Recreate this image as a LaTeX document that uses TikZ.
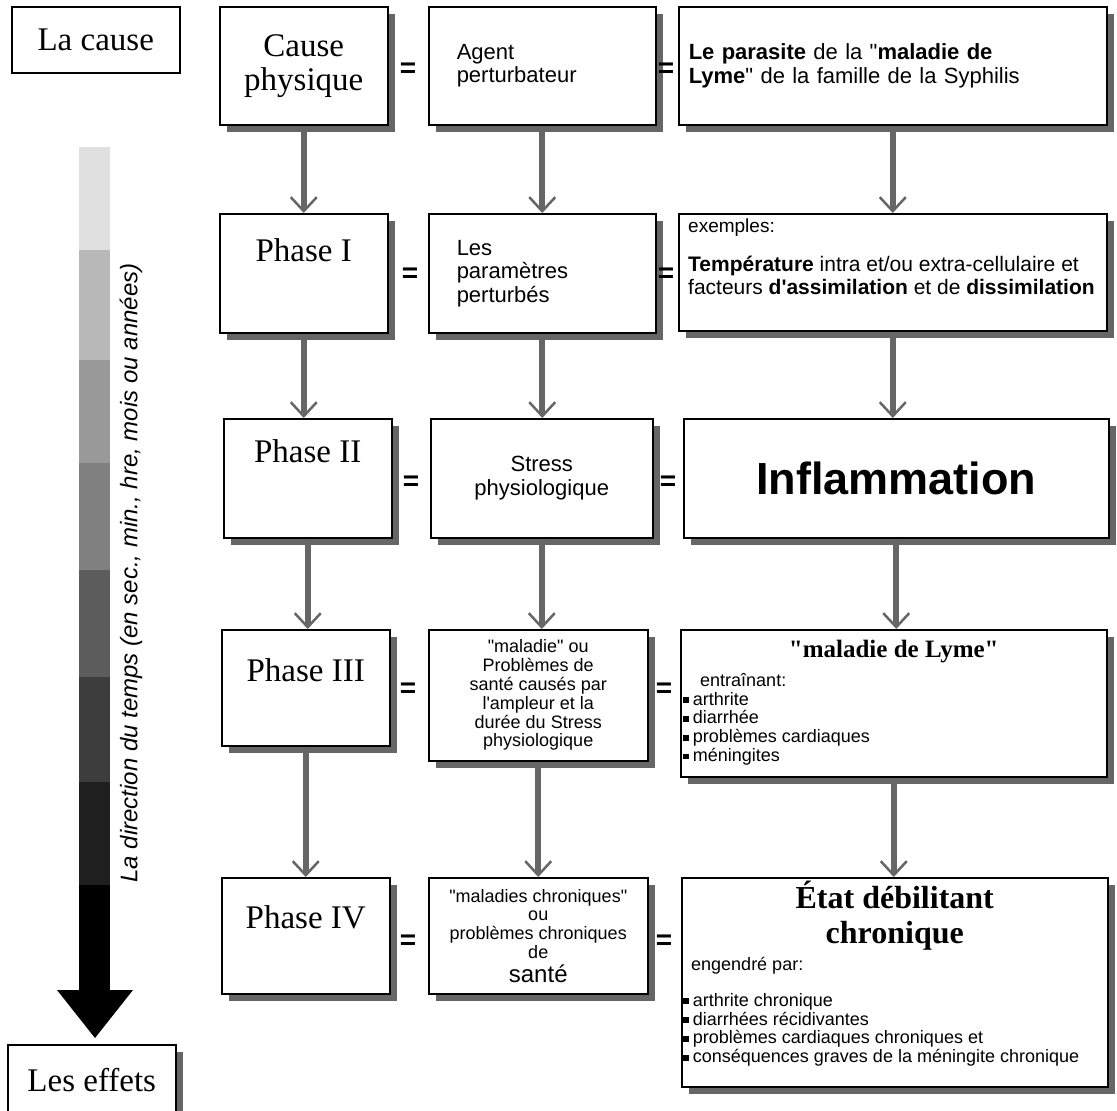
\documentclass[tikz,border=0pt]{standalone}
\usepackage{fontspec}
\setmainfont{Liberation Serif}[Ligatures=TeXOff]
\setsansfont{Liberation Sans}[Ligatures=TeXOff]
\usetikzlibrary{arrows.meta,shadows}

\definecolor{shadegray}{HTML}{666666}
\newcommand\sq{\rule[0.12em]{0.32em}{0.32em}\hspace{0.22em}}

\tikzset{
  frame/.style={draw, line width=1.5pt, fill=white, anchor=north west, inner sep=0pt},
  shbox/.style={frame, drop shadow={shadow xshift=7pt, shadow yshift=-7pt, fill=shadegray, opacity=1}},
  ttl/.style={font=\fontsize{33}{34}\selectfont},
  sans/.style={font=\sffamily\fontsize{22}{23.5}\selectfont},
  small/.style={font=\sffamily\fontsize{18}{18.8}\selectfont},
  eq/.style={font=\sffamily\bfseries\fontsize{28}{28}\selectfont, inner sep=0pt},
  flow/.style={draw=shadegray, line width=6pt, -{Straight Barb[length=14pt, width=26pt, line width=2.5pt]}}
}

\begin{document}
\begin{tikzpicture}[x=1pt, y=-1pt]
\clip (0,0) rectangle (1117,1111);
% time axis
\foreach \y/\z/\g in {147/250/12, 250/360/28, 360/463/40, 463/570/50, 570/677/64, 677/782/76, 782/885/88} \fill[black!\g] (79,\y) rectangle (110,\z);
\fill (79,885) rectangle (110,991);
\fill (57,990) -- (133,990) -- (95,1038) -- cycle;
\node[rotate=90, font=\sffamily\itshape\fontsize{24}{24}\selectfont] (dir) at (131,573) {La direction du temps (en sec., min., hre, mois ou années)};
\node[frame, ttl, minimum width=168pt, minimum height=66pt] (cause) at (11,6) {La cause};
\node[shbox, ttl, minimum width=168pt, minimum height=70pt] (effets) at (7,1044) {Les effets};
% row 1
\node[shbox, ttl, align=center, minimum width=168pt, minimum height=118pt] (cp) at (219,6) {Cause\\physique};
\node[shbox, sans, minimum width=227pt, minimum height=118pt, inner xsep=28pt, text width=171pt, align=left] (agent) at (428,6) {Agent\\perturbateur};
\node[shbox, sans, minimum width=428pt, minimum height=118pt, inner xsep=10pt, text width=408pt, align=left] (parasite) at (678,6) {\textbf{Le parasite} de la "\textbf{maladie de}\\\textbf{Lyme}" de la famille de la Syphilis};
% row 2
\node[shbox, minimum width=168pt, minimum height=119pt] (ph1) at (219,213) {};
\node[ttl] (ph1t) at ([yshift=-37pt]ph1.north) {Phase I};
\node[shbox, sans, minimum width=227pt, minimum height=119pt, inner xsep=28pt, text width=171pt, align=left] (param) at (428,213) {Les\\paramètres\\perturbés};
\node[shbox, minimum width=428pt, minimum height=117pt] (ex) at (678,213) {};
\node[font=\sffamily\fontsize{21}{23.5}\selectfont, anchor=north west, align=left, inner sep=0pt] (ext) at ([xshift=10pt, yshift=-6pt]ex.north west) {{\fontsize{19}{20}\selectfont exemples:}\\[15pt]\textbf{Température} intra et/ou extra-cellulaire et\\facteurs \textbf{d'assimilation} et de \textbf{dissimilation}};
% row 3
\node[shbox, minimum width=168pt, minimum height=119pt] (ph2) at (223,418) {};
\node[ttl] (ph2t) at ([yshift=-33pt]ph2.north) {Phase II};
\node[shbox, sans, minimum width=222pt, minimum height=119pt, align=center] (stress) at (430,418) {Stress\\physiologique};
\node[shbox, minimum width=425pt, minimum height=119pt, font=\sffamily\bfseries\fontsize{45}{45}\selectfont] (infl) at (683,418) {Inflammation};
% row 4
\node[shbox, minimum width=168pt, minimum height=116pt] (ph3) at (221,629) {};
\node[ttl] (ph3t) at ([yshift=-41pt]ph3.north) {Phase III};
\node[shbox, small, minimum width=219pt, minimum height=131pt, align=center] (mal) at (428,629) {"maladie" ou\\Problèmes de\\santé causés par\\l'ampleur et la\\durée du Stress\\physiologique};
\node[shbox, minimum width=426pt, minimum height=147pt] (lyme) at (680,629) {};
\node[font=\bfseries\fontsize{25}{26}\selectfont] (lymet) at ([yshift=-23pt]lyme.north) {"maladie de Lyme"};
\node[small, anchor=north west, align=left, inner sep=0pt] (lymel) at ([xshift=3pt, yshift=-44pt]lyme.north west) {\hspace*{17pt}entraînant:\\\sq arthrite\\\sq diarrhée\\\sq problèmes cardiaques\\\sq méningites};
% row 5
\node[shbox, minimum width=168pt, minimum height=116pt] (ph4) at (221,877) {};
\node[ttl] (ph4t) at ([yshift=-40pt]ph4.north) {Phase IV};
\node[shbox, small, minimum width=219pt, minimum height=116pt, align=center] (chron) at (428,877) {"maladies chroniques"\\ou\\problèmes chroniques\\de\\[5pt]{\fontsize{24}{24}\selectfont santé}};
\node[shbox, minimum width=426pt, minimum height=209pt] (etat) at (681,877) {};
\node[font=\bfseries\fontsize{32}{35}\selectfont, align=center] (etatt) at ([yshift=-39pt]etat.north) {État débilitant\\chronique};
\node[small, anchor=north west, align=left, inner sep=0pt] (etatl) at ([xshift=2pt, yshift=-80pt]etat.north west) {\hspace*{8pt}engendré par:\\[17pt]\sq arthrite chronique\\\sq diarrhées récidivantes\\\sq problèmes cardiaques chroniques et\\\sq conséquences graves de la méningite chronique};
% equal signs
\foreach \x/\y [count=\i] in {408/70, 666/70, 410/275, 666/275, 411/483, 668/483, 408/690, 664/690, 408/942, 664/942} \node[eq] (eq\i) at (\x,\y) {=};
% arrows
\foreach \a/\b in {cp/ph1, ph1/ph2, ph2/ph3, ph3/ph4, agent/param, param/stress, stress/mal, mal/chron, parasite/ex, ex/infl, infl/lyme, lyme/etat} \draw[flow] (\a.south) -- (\a.south |- \b.north);
\end{tikzpicture}
\end{document}
